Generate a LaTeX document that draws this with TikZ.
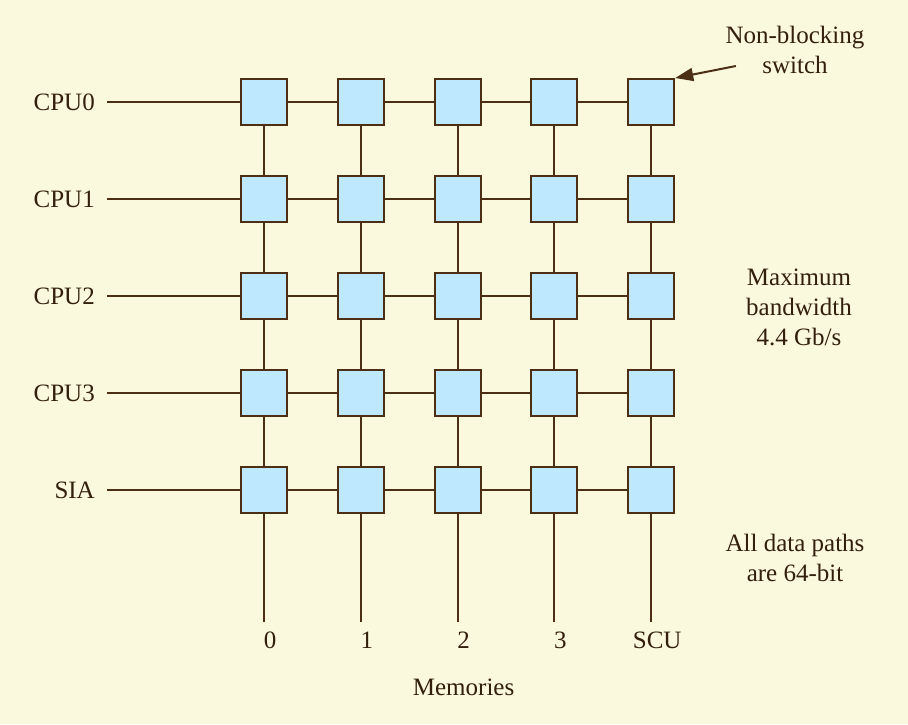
\documentclass[tikz,border=0pt]{standalone}
\usepackage{fontspec}
\setmainfont{Liberation Serif}
\usetikzlibrary{positioning, arrows.meta}
\definecolor{paper}{HTML}{FAF8DD}
\definecolor{switchfill}{HTML}{BEE8FD}
\definecolor{wire}{HTML}{4B2E14}
\definecolor{ink}{HTML}{33200C}
\tikzset{
  >={Triangle[length=18pt,width=13pt]},
  every node/.style={font=\fontsize{25}{30}\selectfont, text=ink},
  switch/.style={draw=wire, line width=2pt, fill=switchfill, minimum size=46pt, inner sep=0pt},
  bus/.style={draw=wire, line width=2pt},
  port/.style={anchor=east, inner xsep=12pt},
  note/.style={align=center, inner sep=2pt}
}

\begin{document}
\begin{tikzpicture}[x=1pt, y=-1pt]
    \fill[paper] (0,0) rectangle (908,724);
    \useasboundingbox (0,0) rectangle (908,724);

    % crossbar switches
    \foreach \r in {0,...,4}
      \foreach \c in {0,...,4}
        \node[switch] (s-\r-\c) at ({264+96.8*\c},{102+97*\r}) {};

    % links between switches
    \foreach \r in {0,...,4}
      \foreach \c [count=\n] in {0,...,3}
        \draw[bus] (s-\r-\c) -- (s-\r-\n);
    \foreach \c in {0,...,4}
      \foreach \r [count=\n] in {0,...,3}
        \draw[bus] (s-\r-\c) -- (s-\n-\c);

    % processor side
    \foreach \r/\name in {0/CPU0, 1/CPU1, 2/CPU2, 3/CPU3, 4/SIA} {
      \node[port] (in-\r) at (107,{102+97*\r}) {\name};
      \draw[bus] (in-\r.east) -- (s-\r-0);
    }

    % memory side
    \foreach \c/\name in {0/0, 1/1, 2/2, 3/3, 4/SCU} {
      \coordinate (m-\c) at ({264+96.8*\c},622);
      \draw[bus] (s-4-\c) -- (m-\c);
      \node (mem-\c) at ({270+96.8*\c},640) {\name};
    }
    \node (memories) [below=24pt of mem-2] {Memories};

    % notes
    \node[note] (nbs) at (795,50) {Non-blocking\\switch};
    \draw[bus, ->] ([xshift=12.5pt,yshift=-16pt]nbs.west) -- (s-0-4.north east);
    \node[note] (bw) at (799,307) {Maximum\\bandwidth\\4.4 Gb/s};
    \node[note] (paths) at (795,558) {All data paths\\are 64-bit};
\end{tikzpicture}
\end{document}
